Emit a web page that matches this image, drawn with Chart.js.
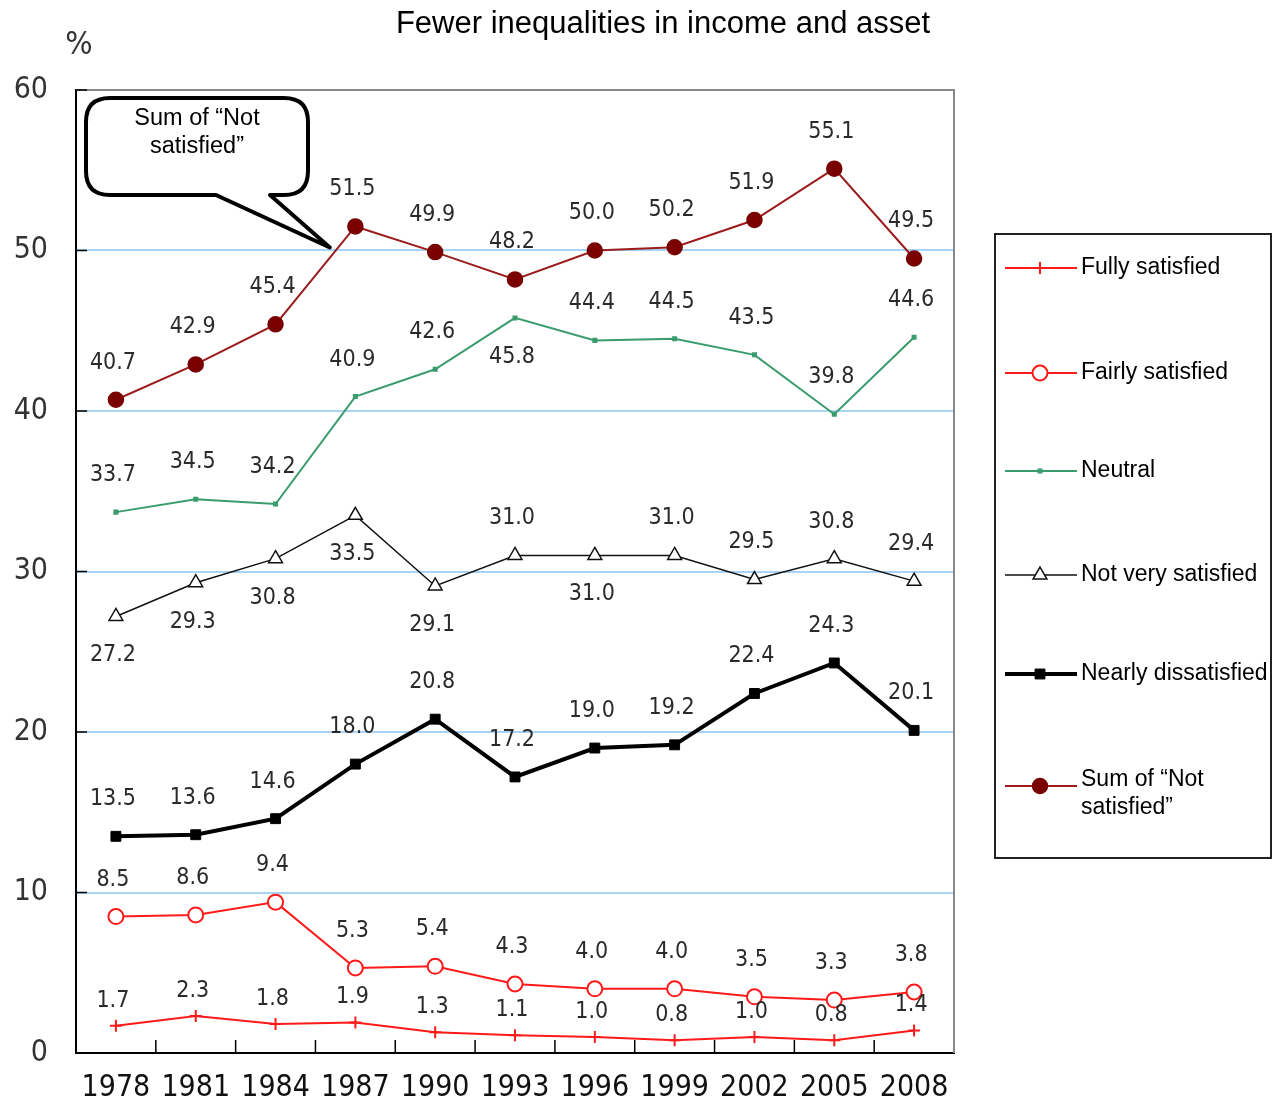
<!DOCTYPE html>
<html>
<head>
<meta charset="utf-8">
<script src="https://cdn.jsdelivr.net/npm/chart.js@4/dist/chart.umd.min.js"></script>
<style>
  html, body { margin: 0; padding: 0; background: #fff; }
  #wrap { width: 1278px; height: 1108px; }
</style>
</head>
<body>
<div id="wrap"><canvas id="ineq" width="1278" height="1108"></canvas></div>
<script>
const years = ['1978', '1981', '1984', '1987', '1990', '1993', '1996', '1999', '2002', '2005', '2008'];
const fullySatisfied = [1.7, 2.3, 1.8, 1.9, 1.3, 1.1, 1.0, 0.8, 1.0, 0.8, 1.4];
const fairlySatisfied = [8.5, 8.6, 9.4, 5.3, 5.4, 4.3, 4.0, 4.0, 3.5, 3.3, 3.8];
const neutral = [33.7, 34.5, 34.2, 40.9, 42.6, 45.8, 44.4, 44.5, 43.5, 39.8, 44.6];
const notVerySatisfied = [27.2, 29.3, 30.8, 33.5, 29.1, 31.0, 31.0, 31.0, 29.5, 30.8, 29.4];
const nearlyDissatisfied = [13.5, 13.6, 14.6, 18.0, 20.8, 17.2, 19.0, 19.2, 22.4, 24.3, 20.1];
const sumNotSatisfied = [40.7, 42.9, 45.4, 51.5, 49.9, 48.2, 50.0, 50.2, 51.9, 55.1, 49.5];
const yTicks = [0, 10, 20, 30, 40, 50, 60];

const numFont = '"DejaVu Sans Condensed", "DejaVu Sans", sans-serif';
const textFont = '"Liberation Sans", Arial, sans-serif';

// which points get their value written under the marker instead of above
const labelsBelow = {
  'Neutral': [5],
  'Not very satisfied': [0, 1, 2, 3, 4, 6]
};

const valueLabels = {
  id: 'valueLabels',
  afterDatasetsDraw(chart) {
    const ctx = chart.ctx;
    ctx.save();
    ctx.font = '23px ' + numFont;
    ctx.fillStyle = '#2a2a2a';
    ctx.textAlign = 'center';
    ctx.textBaseline = 'middle';
    chart.data.datasets.forEach((ds, di) => {
      const meta = chart.getDatasetMeta(di);
      const below = labelsBelow[ds.label] || [];
      const gap = ds.label === 'Fully satisfied' ? 25 : 37;
      meta.data.forEach((pt, i) => {
        const dy = below.includes(i) ? gap + 2 : -gap;
        ctx.fillText(ds.data[i].toFixed(1), pt.x - 3, pt.y + dy);
      });
    });
    ctx.restore();
  }
};

const frame = {
  id: 'frame',
  beforeDatasetsDraw(chart) {
    const { ctx, chartArea: a } = chart;
    const x = chart.scales.x, y = chart.scales.y;
    ctx.save();
    // top and right edges of the plot
    ctx.strokeStyle = '#888';
    ctx.lineWidth = 2;
    ctx.beginPath();
    ctx.moveTo(a.left, a.top);
    ctx.lineTo(a.right, a.top);
    ctx.lineTo(a.right, a.bottom);
    ctx.stroke();
    // inward tick marks
    ctx.strokeStyle = '#000';
    ctx.lineWidth = 1.5;
    ctx.beginPath();
    yTicks.forEach(v => {
      const py = y.getPixelForValue(v);
      ctx.moveTo(a.left, py);
      ctx.lineTo(a.left + 11, py);
    });
    for (let i = 1; i < years.length; i++) {
      const px = (x.getPixelForValue(i - 1) + x.getPixelForValue(i)) / 2;
      ctx.moveTo(px, a.bottom);
      ctx.lineTo(px, a.bottom - 13);
    }
    ctx.stroke();
    ctx.restore();
  },
  afterDraw(chart) {
    const ctx = chart.ctx;
    ctx.save();
    ctx.fillStyle = '#000';
    ctx.textAlign = 'center';
    ctx.textBaseline = 'middle';
    ctx.font = '31px ' + textFont;
    ctx.fillText('Fewer inequalities in income and asset', 663, 24);
    ctx.fillStyle = '#333';
    ctx.font = '32px ' + numFont;
    ctx.fillText('%', 79, 46);
    ctx.restore();
  }
};

// speech bubble pointing at the "Not satisfied" line
const callout = {
  id: 'callout',
  afterDatasetsDraw(chart) {
    const { ctx } = chart;
    const x = chart.scales.x, y = chart.scales.y;
    const tipX = x.getPixelForValue(2) + 0.68 * (x.getPixelForValue(3) - x.getPixelForValue(2));
    const tipY = y.getPixelForValue(50) - 3;
    const l = 86, t = 98, r = 308, b = 195, rad = 24;
    ctx.save();
    ctx.beginPath();
    ctx.moveTo(l + rad, t);
    ctx.lineTo(r - rad, t);
    ctx.quadraticCurveTo(r, t, r, t + rad);
    ctx.lineTo(r, b - rad);
    ctx.quadraticCurveTo(r, b, r - rad, b);
    ctx.lineTo(270, b);
    ctx.lineTo(tipX, tipY);
    ctx.lineTo(216, b);
    ctx.lineTo(l + rad, b);
    ctx.quadraticCurveTo(l, b, l, b - rad);
    ctx.lineTo(l, t + rad);
    ctx.quadraticCurveTo(l, t, l + rad, t);
    ctx.closePath();
    ctx.fillStyle = '#fff';
    ctx.fill();
    ctx.lineWidth = 4;
    ctx.lineJoin = 'round';
    ctx.strokeStyle = '#000';
    ctx.stroke();
    ctx.fillStyle = '#000';
    ctx.font = '23.5px ' + textFont;
    ctx.textAlign = 'center';
    ctx.textBaseline = 'middle';
    ctx.fillText('Sum of \u201cNot', 197, 119);
    ctx.fillText('satisfied\u201d', 197, 147);
    ctx.restore();
  }
};

// boxed legend on the right, one row per series
const sideLegend = {
  id: 'sideLegend',
  afterDraw(chart) {
    const ctx = chart.ctx;
    const box = { l: 995, t: 234, r: 1271, b: 858 };
    const rows = [268, 373, 471, 575, 674, 780];
    ctx.save();
    ctx.strokeStyle = '#222';
    ctx.lineWidth = 2;
    ctx.strokeRect(box.l, box.t, box.r - box.l, box.b - box.t);
    ctx.font = '23px ' + textFont;
    ctx.textBaseline = 'middle';
    ctx.textAlign = 'left';
    chart.data.datasets.forEach((ds, i) => {
      const cy = i === 5 ? rows[i] + 6 : rows[i];
      ctx.strokeStyle = ds.borderColor;
      ctx.lineWidth = ds.borderWidth;
      ctx.beginPath();
      ctx.moveTo(1005, cy);
      ctx.lineTo(1077, cy);
      ctx.stroke();
      ctx.fillStyle = ds.pointBackgroundColor;
      ctx.strokeStyle = ds.pointBorderColor;
      ctx.lineWidth = ds.pointBorderWidth;
      Chart.helpers.drawPoint(ctx, {
        pointStyle: ds.pointStyle,
        radius: ds.pointRadius,
        borderWidth: ds.pointBorderWidth,
        rotation: 0
      }, 1040, cy);
      ctx.fillStyle = '#000';
      if (i === 5) {
        ctx.fillText('Sum of \u201cNot', 1081, rows[i]);
        ctx.fillText('satisfied\u201d', 1081, rows[i] + 28);
      } else {
        ctx.fillText(ds.label, 1081, rows[i]);
      }
    });
    ctx.restore();
  }
};

function series(label, data, color, lineWidth, point) {
  return Object.assign({
    label: label,
    data: data,
    borderColor: color,
    borderWidth: lineWidth,
    pointBorderColor: color,
    pointBackgroundColor: color,
    pointBorderWidth: 1.5,
    tension: 0,
    fill: false
  }, point);
}

const datasets = [
  series('Fully satisfied', fullySatisfied, '#ff1a1a', 2,
    { pointStyle: 'cross', pointRadius: 6, pointBorderWidth: 2 }),
  series('Fairly satisfied', fairlySatisfied, '#ff1a1a', 2,
    { pointStyle: 'circle', pointRadius: 7.5, pointBackgroundColor: '#fff', pointBorderWidth: 2 }),
  series('Neutral', neutral, '#3a9c6c', 2,
    { pointStyle: 'rect', pointRadius: 2.5 }),
  series('Not very satisfied', notVerySatisfied, '#111', 1.5,
    { pointStyle: 'triangle', pointRadius: 8, pointBackgroundColor: '#fff', pointBorderWidth: 1.5 }),
  series('Nearly dissatisfied', nearlyDissatisfied, '#000', 4,
    { pointStyle: 'rect', pointRadius: 7, pointBorderWidth: 1 }),
  series('Sum of \u201cNot satisfied\u201d', sumNotSatisfied, '#9b1c1c', 2,
    { pointStyle: 'circle', pointRadius: 7.5, pointBackgroundColor: '#7a0000', pointBorderColor: '#7a0000' })
];

new Chart(document.getElementById('ineq'), {
  type: 'line',
  data: { labels: years, datasets: datasets },
  options: {
    responsive: false,
    animation: false,
    layout: { padding: { top: 90, right: 324, left: 0, bottom: 0 } },
    plugins: {
      legend: { display: false },
      title: { display: false },
      tooltip: { enabled: false }
    },
    scales: {
      x: {
        offset: true,
        grid: { display: false, drawTicks: false },
        border: { color: '#000', width: 2 },
        ticks: {
          color: '#111',
          font: { family: numFont, size: 30 },
          padding: 17,
          maxRotation: 0,
          autoSkip: false
        },
        afterFit(scale) { scale.height = 55; }
      },
      y: {
        min: 0,
        max: 60,
        ticks: {
          stepSize: 10,
          color: '#333',
          font: { family: numFont, size: 30 },
          padding: 28
        },
        grid: {
          drawTicks: false,
          lineWidth: 2,
          color: ctx => (ctx.tick && (ctx.tick.value === 0 || ctx.tick.value === 60)) ? 'rgba(0,0,0,0)' : '#a9d3f5'
        },
        border: { color: '#000', width: 2 },
        afterFit(scale) { scale.width = 76; }
      }
    }
  },
  plugins: [frame, callout, valueLabels, sideLegend]
});
</script>
</body>
</html>
